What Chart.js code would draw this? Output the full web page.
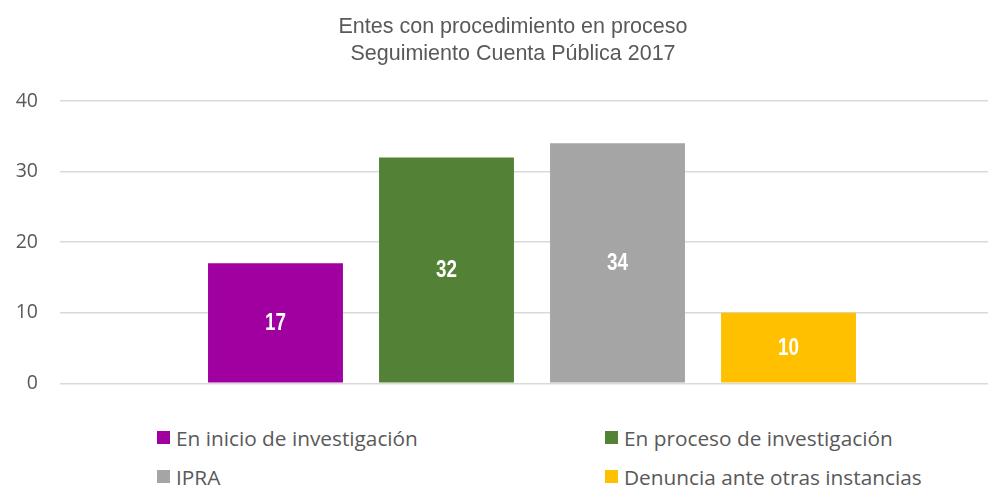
<!DOCTYPE html>
<html>
<head>
<meta charset="utf-8">
<script src="https://cdn.jsdelivr.net/npm/chart.js@4"></script>
<style>
  html, body { margin: 0; padding: 0; background: #fff; overflow: hidden; }
  #wrap { position: relative; width: 988px; height: 485px; overflow: hidden; }
  #legend {
    position: absolute; left: 157px; top: 424px;
    display: grid; grid-template-columns: 448px 380px; row-gap: 12px;
    font-family: "Open Sans", sans-serif; font-size: 20.8px; color: #595959;
  }
  #legend div { display: flex; align-items: center; height: 27px; white-space: nowrap; }
  #legend span.box { display: inline-block; width: 13px; height: 13px; margin-right: 6px; }
</style>
</head>
<body>
<div id="wrap">
  <canvas id="myChart" width="1026" height="417"></canvas>
  <div id="legend"></div>
</div>
<script>
// datos
const categories = ['Cuenta Pública 2017']
const series = ['En inicio de investigación', 'En proceso de investigación', 'IPRA', 'Denuncia ante otras instancias']
const values = [17, 32, 34, 10]
const colors = ['#A0009F', '#538135', '#A5A5A5', '#FFC000']
const yTicks = [0, 10, 20, 30, 40]

const datasets = series.map((name, i) => ({
  label: name,
  data: [values[i]],
  backgroundColor: colors[i],
  borderWidth: 0,
  categoryPercentage: 0.7246,
  barPercentage: 0.789,
}))

// etiquetas dentro de las barras (tipo Arial Narrow)
const barLabels = {
  id: 'barLabels',
  afterDatasetsDraw(chart) {
    const ctx = chart.ctx
    chart.data.datasets.forEach((ds, i) => {
      chart.getDatasetMeta(i).data.forEach((bar, j) => {
        ctx.save()
        ctx.translate(bar.x, (bar.y + bar.base) / 2)
        ctx.scale(0.82, 1)
        ctx.fillStyle = '#ffffff'
        ctx.font = 'bold 23px "Liberation Sans", Arial, sans-serif'
        ctx.textAlign = 'center'
        ctx.textBaseline = 'middle'
        ctx.fillText(ds.data[j], 0, 1)
        ctx.restore()
      })
    })
  }
}

const config = {
  type: 'bar',
  data: { labels: categories, datasets: datasets },
  options: {
    responsive: false,
    animation: false,
    layout: { padding: 0 },
    plugins: {
      legend: { display: false },
      tooltip: { enabled: false },
      title: {
        display: true,
        text: ['Entes con procedimiento en proceso', 'Seguimiento Cuenta Pública 2017'],
        color: '#595959',
        font: { family: '"Liberation Sans", Arial, sans-serif', size: 21.5, weight: 'normal', lineHeight: 1.256 },
        padding: { top: 14, bottom: 33 }
      }
    },
    scales: {
      x: { display: false },
      y: {
        min: 0,
        max: 40,
        afterFit: (s) => { s.width = 60 },
        afterBuildTicks: (s) => { s.ticks = yTicks.map(v => ({ value: v })) },
        border: { display: false },
        grid: { color: '#D9D9D9', lineWidth: 1.5, drawTicks: false },
        ticks: {
          padding: 22,
          color: '#595959',
          font: { family: '"Open Sans", sans-serif', size: 19.5 }
        }
      },
      // eje vacío a la derecha, solo reserva espacio
      yRight: {
        position: 'right',
        min: 0,
        max: 40,
        afterFit: (s) => { s.width = 22 },
        border: { display: false },
        grid: { drawOnChartArea: false, drawTicks: false },
        ticks: { display: false }
      }
    }
  },
  plugins: [barLabels]
}

const myChart = new Chart(document.getElementById('myChart'), config)

// leyenda en dos columnas
const legend = document.getElementById('legend')
series.forEach((name, i) => {
  const item = document.createElement('div')
  item.innerHTML = '<span class="box" style="background:' + colors[i] + '"></span>' + name
  legend.appendChild(item)
})
</script>
</body>
</html>
